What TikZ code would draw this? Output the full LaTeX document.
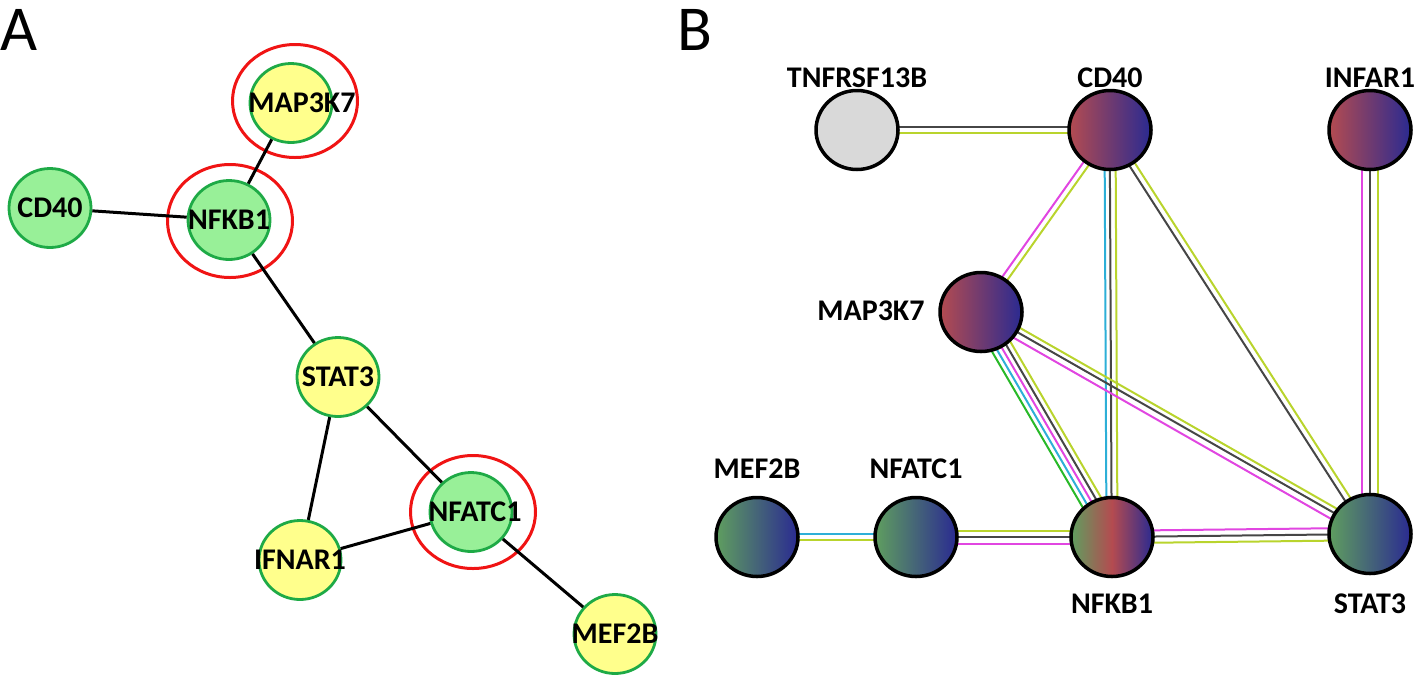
\documentclass[tikz,border=0pt]{standalone}
\usepackage{fontspec}
\setmainfont{Carlito}
\usetikzlibrary{shapes.geometric,calc,backgrounds}
\definecolor{ayellow}{RGB}{255,255,140}
\definecolor{agreen}{RGB}{152,240,152}
\definecolor{aborder}{RGB}{30,170,70}
\definecolor{aring}{RGB}{240,20,20}
\definecolor{sred}{RGB}{180,75,80}
\definecolor{sblue}{RGB}{42,42,145}
\definecolor{sgreen}{RGB}{95,158,95}
\definecolor{egray}{RGB}{70,70,70}
\definecolor{eyg}{RGB}{185,212,45}
\definecolor{emag}{RGB}{225,70,225}
\definecolor{ecyan}{RGB}{45,175,215}
\definecolor{egreen}{RGB}{40,185,40}
\pgfdeclarehorizontalshading{grbshade}{100bp}{color(0bp)=(sgreen); color(25bp)=(sgreen); color(50bp)=(sred); color(75bp)=(sblue); color(100bp)=(sblue)}
\newcommand\bedge[3]{\foreach \o/\c in {#3}{\draw[bline,\c] ($(#1)!\o*0.5pt!90:(#2)$) -- ($(#2)!\o*0.5pt!-90:(#1)$);}}
\tikzset{
  anode/.style={ellipse, draw=aborder, line width=1.4pt, minimum width=41pt, minimum height=39.5pt, inner sep=0pt},
  ayel/.style={anode, fill=ayellow},
  agrn/.style={anode, fill=agreen},
  ring/.style={ellipse, draw=aring, line width=1.5pt, minimum width=62.5pt, minimum height=56.5pt, inner sep=0pt},
  lbl/.style={font=\bfseries\fontsize{15}{15}\selectfont, inner sep=0pt, text=black},
  aedge/.style={line width=1.5pt, black},
  bnode/.style={ellipse, draw=black, line width=1.75pt, minimum width=41pt, minimum height=39.5pt, inner sep=0pt},
  rb/.style={bnode, left color=sred, right color=sblue},
  gb/.style={bnode, left color=sgreen, right color=sblue},
  grb/.style={bnode, shade, shading=grbshade, shading angle=0},
  gry/.style={bnode, fill=black!15},
  bline/.style={line width=1pt},
  big/.style={font=\fontsize{32}{32}\selectfont, anchor=base west, inner sep=0pt}
}
\begin{document}
\begin{tikzpicture}[x=0.5pt,y=-0.5pt]
\useasboundingbox (0,0) rectangle (1418,676);
% panel letters
\node[big] (labA) at (0,50) {A};
\node[big] (labB) at (677,50) {B};
% ---------- Panel A ----------
\node[agrn, label={[lbl]center:CD40}] (aCD) at (50,208) {};
\node[agrn, label={[lbl]center:NFKB1}] (aNF) at (229,220) {};
\node[ayel, label={[lbl,xshift=5.5pt]center:MAP3K7}] (aMAP) at (291,103) {};
\node[ayel, label={[lbl]center:STAT3}] (aST) at (338,377) {};
\node[agrn, label={[lbl,xshift=2pt]center:NFATC1}] (aNA) at (471,512) {};
\node[ayel, label={[lbl]center:IFNAR1}] (aIF) at (300,560) {};
\node[ayel, label={[lbl]center:MEF2B}] (aME) at (615,634) {};
\node[ring] (rMAP) at (295,101) {};
\node[ring] (rNF) at (230,221) {};
\node[ring] (rNA) at (473,512) {};
\draw[aedge] (aMAP) -- (aNF);
\draw[aedge] (aCD) -- (aNF);
\draw[aedge] (aNF) -- (aST);
\draw[aedge] (aST) -- (aIF);
\draw[aedge] (aST) -- (aNA);
\draw[aedge] (aNA) -- (aIF);
\draw[aedge] (aNA) -- (aME);
% ---------- Panel B ----------
\node[gry] (bTN) at (857,130) {};
\node[rb] (bCD) at (1110,130) {};
\node[rb] (bIN) at (1370,130) {};
\node[rb] (bMAP) at (981,312) {};
\node[gb] (bME) at (757,537) {};
\node[gb] (bNA) at (916,537) {};
\node[grb] (bNF) at (1112,537) {};
\node[gb] (bST) at (1370,534) {};
\node[lbl] (tTN) at (857,78) {TNFRSF13B};
\node[lbl] (tCD) at (1110,78) {CD40};
\node[lbl] (tIN) at (1370,78) {INFAR1};
\node[lbl, anchor=east] (tMAP) at (925,311) {MAP3K7};
\node[lbl] (tME) at (757,469) {MEF2B};
\node[lbl] (tNA) at (916,469) {NFATC1};
\node[lbl] (tNF) at (1112,604) {NFKB1};
\node[lbl] (tST) at (1370,604) {STAT3};
\begin{scope}[on background layer, transform canvas={xshift=1pt,yshift=3.5pt}]
\bedge{bTN}{bCD}{2.8/egray, -2.8/eyg}
\bedge{bCD}{bMAP}{-3/emag, 3/eyg}
\bedge{bCD}{bNF}{-5.5/ecyan, -0.3/egray, 5.5/eyg}
\bedge{bCD}{bST}{-3/egray, 3/eyg}
\bedge{bIN}{bST}{-8/emag, 0/egray, 8/eyg}
\bedge{bMAP}{bNF}{-10.4/egreen, -5.2/ecyan, 0/emag, 5.2/egray, 10.4/eyg}
\bedge{bMAP}{bST}{5.5/eyg, 0.5/egray, -6.2/emag}
\bedge{bNA}{bNF}{6.5/eyg, 0/egray, -6.5/emag}
\bedge{bME}{bNA}{3.4/ecyan, -3.4/eyg}
\bedge{bNF}{bST}{6.2/emag, 0/egray, -6.2/eyg}
\end{scope}
\end{tikzpicture}
\end{document}
